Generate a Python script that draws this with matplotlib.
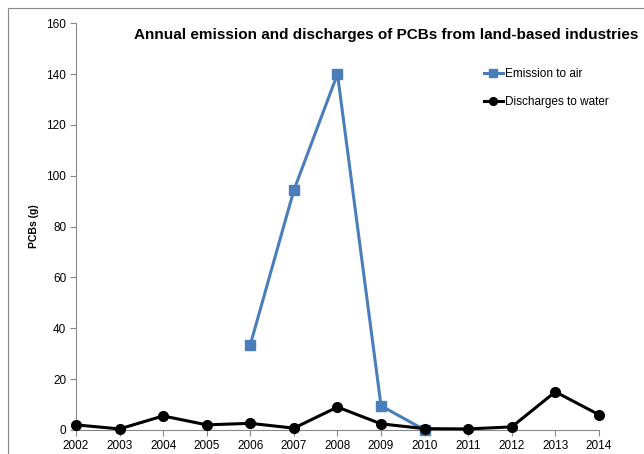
import matplotlib
matplotlib.use("Agg")
import matplotlib.pyplot as plt
from matplotlib.patches import Rectangle

years = [2002, 2003, 2004, 2005, 2006, 2007, 2008, 2009, 2010, 2011, 2012, 2013, 2014]
air_years = [2006, 2007, 2008, 2009, 2010]
emission_air = [33.5, 94.3, 140, 9.5, 0]
discharge_water = [2, 0.4, 5.5, 2, 2.6, 0.7, 9, 2.4, 0.5, 0.4, 1.2, 15, 6]

plt.rcParams['font.family'] = ['Liberation Sans', 'DejaVu Sans']

fig = plt.figure(figsize=(6.44, 4.54), dpi=100)
ax = fig.add_axes([0.118, 0.053, 0.812, 0.896])

# 外枠
fig.patches.append(Rectangle((8 / 644, -0.1), 1.2, 1.1 - 8 / 454, transform=fig.transFigure,
                             fill=False, edgecolor='#888888', linewidth=0.8))

ax.plot(air_years, emission_air, color='#4a7ebb', linewidth=2.2, marker='s',
        markersize=6.5, label='Emission to air', zorder=3, clip_on=False)
ax.plot(years, discharge_water, color='black', linewidth=2.2, marker='o',
        markersize=7, label='Discharges to water', zorder=4, clip_on=False)

ax.set_xlim(2002, 2014)
ax.set_ylim(0, 160)
ax.set_xticks(years)
ax.set_yticks(range(0, 161, 20))
ax.tick_params(labelsize=8.5, color='#888888', length=4, width=0.8, pad=3)
for s in ['top', 'right']:
    ax.spines[s].set_visible(False)
for s in ['left', 'bottom']:
    ax.spines[s].set_color('#888888')
    ax.spines[s].set_linewidth(0.8)

ax.set_ylabel('PCBs (g)', fontsize=7.5, fontweight='bold', labelpad=5)
fig.text(0.6, 0.922, 'Annual emission and discharges of PCBs from land-based industries',
         ha='center', va='center', fontsize=11, fontweight='bold')

ax.legend(loc='upper left', bbox_to_anchor=(0.76, 0.915), frameon=False, fontsize=8.5,
          handlelength=1.6, handletextpad=0.2, labelspacing=1.3, markerscale=0.8)

fig.savefig('out.png', dpi=100)
